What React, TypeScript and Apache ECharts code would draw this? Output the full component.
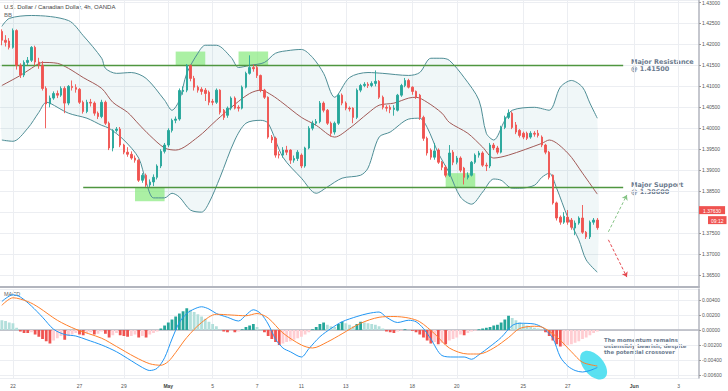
import React, { useEffect, useRef } from 'react';
import * as echarts from 'echarts';

const TITLE = 'U.S. Dollar / Canadian Dollar, 4h, OANDA';
const SLOT_COUNT = 189;
const labelSlots = [3, 21, 33, 45, 57, 69, 81, 93, 111, 123, 141, 153, 171, 183];
const labelTexts = ['22', '27', '29', 'May', '5', '7', '11', '13', '18', '20', '25', '27', 'Jun', '3'];

// [open, high, low, close]
const candles = [
  [1.4231,1.4236,1.4198,1.4210],[1.4210,1.4222,1.4195,1.4205],[1.4208,1.4215,1.4188,1.4193],[1.4193,1.4238,1.4190,1.4233],
  [1.4233,1.4236,1.4140,1.4150],[1.4150,1.4155,1.4120,1.4127],[1.4127,1.4162,1.4122,1.4157],[1.4157,1.4170,1.4150,1.4162],
  [1.4162,1.4196,1.4158,1.4193],[1.4193,1.4197,1.4150,1.4158],[1.4158,1.4168,1.4142,1.4150],[1.4150,1.4160,1.4090,1.4095],
  [1.4095,1.4100,1.4000,1.4058],[1.4058,1.4078,1.4050,1.4072],[1.4072,1.4088,1.4068,1.4083],[1.4083,1.4090,1.4072,1.4079],
  [1.4079,1.4100,1.4075,1.4095],[1.4095,1.4100,1.4036,1.4060],[1.4060,1.4103,1.4055,1.4100],[1.4100,1.4114,1.4090,1.4097],
  [1.4097,1.4105,1.4085,1.4093],[1.4093,1.4096,1.4058,1.4062],[1.4062,1.4066,1.4035,1.4040],[1.4040,1.4068,1.4036,1.4062],
  [1.4062,1.4070,1.4052,1.4060],[1.4060,1.4064,1.4030,1.4036],[1.4036,1.4040,1.4022,1.4028],[1.4028,1.4068,1.4024,1.4062],
  [1.4062,1.4066,1.4008,1.4012],[1.4012,1.4016,1.3948,1.3953],[1.3953,1.3998,1.3945,1.3995],[1.3995,1.4003,1.3990,1.3998],
  [1.3998,1.4003,1.3955,1.3960],[1.3960,1.3963,1.3938,1.3943],[1.3943,1.3955,1.3932,1.3938],[1.3938,1.3945,1.3925,1.3929],
  [1.3929,1.3935,1.3918,1.3924],[1.3924,1.3926,1.3872,1.3876],[1.3876,1.3893,1.3870,1.3888],[1.3888,1.3892,1.3860,1.3865],
  [1.3865,1.3878,1.3860,1.3872],[1.3872,1.3890,1.3862,1.3883],[1.3883,1.3914,1.3878,1.3910],[1.3910,1.3950,1.3905,1.3945],
  [1.3945,1.3965,1.3940,1.3960],[1.3960,1.4000,1.3955,1.3995],[1.3995,1.4023,1.3990,1.4019],[1.4019,1.4028,1.4012,1.4022],
  [1.4022,1.4095,1.4018,1.4090],[1.4088,1.4100,1.4080,1.4091],[1.4091,1.4153,1.4086,1.4150],[1.4150,1.4152,1.4112,1.4119],
  [1.4119,1.4125,1.4090,1.4098],[1.4098,1.4102,1.4085,1.4091],[1.4093,1.4098,1.4080,1.4088],[1.4091,1.4096,1.4065,1.4083],
  [1.4086,1.4090,1.4055,1.4062],[1.4064,1.4070,1.4055,1.4062],[1.4062,1.4095,1.4058,1.4091],[1.4091,1.4093,1.4033,1.4038],
  [1.4043,1.4046,1.4020,1.4026],[1.4031,1.4052,1.4025,1.4048],[1.4048,1.4076,1.4043,1.4072],[1.4072,1.4076,1.4045,1.4048],
  [1.4050,1.4055,1.4040,1.4048],[1.4048,1.4102,1.4045,1.4098],[1.4098,1.4135,1.4095,1.4131],[1.4131,1.4174,1.4128,1.4145],
  [1.4145,1.4152,1.4135,1.4142],[1.4145,1.4150,1.4120,1.4126],[1.4126,1.4128,1.4086,1.4091],[1.4091,1.4094,1.4070,1.4074],
  [1.4074,1.4076,1.3975,1.3979],[1.3979,1.3984,1.3965,1.3972],[1.3976,1.3980,1.3930,1.3936],[1.3938,1.3945,1.3928,1.3936],
  [1.3936,1.3955,1.3930,1.3948],[1.3948,1.3958,1.3936,1.3943],[1.3948,1.3950,1.3915,1.3924],[1.3924,1.3935,1.3918,1.3928],
  [1.3928,1.3948,1.3922,1.3943],[1.3936,1.3940,1.3905,1.3910],[1.3910,1.3956,1.3906,1.3953],[1.3953,1.4005,1.3950,1.4000],
  [1.4000,1.4018,1.3995,1.4012],[1.4012,1.4022,1.4007,1.4016],[1.4016,1.4065,1.4012,1.4060],[1.4060,1.4064,1.4038,1.4043],
  [1.4043,1.4046,1.4008,1.4012],[1.4012,1.4016,1.3980,1.3988],[1.3991,1.4016,1.3985,1.4012],[1.4012,1.4082,1.4008,1.4079],
  [1.4079,1.4083,1.4055,1.4060],[1.4060,1.4064,1.4043,1.4048],[1.4048,1.4052,1.4040,1.4046],[1.4048,1.4050,1.4012,1.4026],
  [1.4026,1.4095,1.4022,1.4091],[1.4091,1.4106,1.4086,1.4102],[1.4102,1.4110,1.4098,1.4105],[1.4105,1.4110,1.4096,1.4102],
  [1.4102,1.4112,1.4098,1.4107],[1.4107,1.4138,1.4100,1.4112],[1.4112,1.4115,1.4070,1.4074],[1.4074,1.4078,1.4045,1.4050],
  [1.4050,1.4055,1.4040,1.4048],[1.4050,1.4055,1.4036,1.4045],[1.4045,1.4055,1.4030,1.4048],[1.4043,1.4082,1.4040,1.4079],
  [1.4079,1.4106,1.4075,1.4102],[1.4102,1.4120,1.4098,1.4114],[1.4114,1.4118,1.4095,1.4098],[1.4098,1.4100,1.4080,1.4088],
  [1.4088,1.4090,1.4070,1.4074],[1.4079,1.4082,1.4020,1.4026],[1.4026,1.4030,1.3970,1.3976],[1.3976,1.3980,1.3935,1.3941],
  [1.3948,1.3952,1.3925,1.3931],[1.3931,1.3965,1.3925,1.3946],[1.3948,1.3952,1.3915,1.3919],[1.3919,1.3922,1.3900,1.3907],
  [1.3907,1.3912,1.3883,1.3888],[1.3888,1.3960,1.3884,1.3941],[1.3943,1.3948,1.3912,1.3919],[1.3919,1.3934,1.3914,1.3929],
  [1.3929,1.3933,1.3895,1.3900],[1.3905,1.3908,1.3866,1.3883],[1.3883,1.3895,1.3878,1.3888],[1.3888,1.3922,1.3885,1.3919],
  [1.3919,1.3940,1.3915,1.3936],[1.3936,1.3946,1.3930,1.3941],[1.3941,1.3945,1.3908,1.3912],[1.3912,1.3918,1.3898,1.3910],
  [1.3910,1.3965,1.3905,1.3960],[1.3960,1.3965,1.3948,1.3953],[1.3953,1.3958,1.3938,1.3943],[1.3943,1.4006,1.3940,1.4002],
  [1.4002,1.4030,1.3998,1.4026],[1.4026,1.4045,1.4022,1.4036],[1.4036,1.4040,1.3998,1.4002],[1.4008,1.4015,1.3986,1.3991],
  [1.3995,1.3998,1.3978,1.3983],[1.3988,1.3992,1.3974,1.3979],[1.3988,1.3992,1.3972,1.3976],[1.3979,1.3993,1.3975,1.3988],
  [1.3988,1.3993,1.3980,1.3986],[1.3988,1.3996,1.3978,1.3983],[1.3979,1.3983,1.3955,1.3960],[1.3960,1.3963,1.3938,1.3943],
  [1.3943,1.3946,1.3878,1.3883],[1.3888,1.3890,1.3818,1.3822],[1.3822,1.3825,1.3780,1.3786],[1.3788,1.3792,1.3770,1.3776],
  [1.3776,1.3800,1.3772,1.3790],[1.3788,1.3805,1.3770,1.3776],[1.3781,1.3786,1.3758,1.3764],[1.3762,1.3780,1.3745,1.3774],
  [1.3774,1.3790,1.3770,1.3786],[1.3786,1.3817,1.3748,1.3752],[1.3752,1.3755,1.3736,1.3741],[1.3741,1.3780,1.3736,1.3776],
  [1.3776,1.3786,1.3770,1.3781],[1.3781,1.3786,1.3758,1.3763]
];

// Bollinger bands, read as [candle slot, price]
const bbUpper = [
  [0,1.4243],[2,1.4262],[8,1.4269],[18,1.4257],[22,1.4221],[27,1.4167],[28,1.4143],[31,1.4131],[35,1.4133],[39,1.4119],
  [44,1.4067],[46,1.4043],[48,1.4067],[50,1.4131],[53,1.4179],[55,1.4198],[58,1.4198],[62,1.4169],[64,1.4145],[67,1.4150],
  [71,1.4157],[74,1.4179],[78,1.4186],[81,1.4188],[84,1.4169],[87,1.4131],[90,1.4074],[94,1.4121],[99,1.4133],[103,1.4131],
  [110,1.4126],[113,1.4133],[116,1.4167],[119,1.4167],[121,1.4162],[125,1.4121],[129,1.4067],[131,1.3988],[133,1.3972],
  [136,1.4019],[138,1.4043],[144,1.4050],[148,1.4043],[151,1.4098],[154,1.4114],[157,1.4098],[159,1.4060],[161,1.4024]
];
const bbBasis = [
  [0,1.4102],[5,1.4126],[8,1.4143],[11,1.4157],[15,1.4155],[18,1.4143],[22,1.4121],[27,1.4095],[30,1.4062],[34,1.4038],
  [37,1.4010],[40,1.3983],[44,1.3953],[47,1.3948],[53,1.3979],[58,1.4019],[63,1.4057],[67,1.4083],[70,1.4091],[73,1.4079],
  [76,1.4060],[81,1.4026],[85,1.4007],[90,1.3979],[94,1.4000],[99,1.4036],[102,1.4055],[106,1.4060],[110,1.4072],[112,1.4074],
  [115,1.4062],[119,1.4036],[121,1.4014],[126,1.3988],[130,1.3955],[133,1.3929],[137,1.3936],[146,1.3964],[148,1.3972],
  [153,1.3941],[157,1.3893],[161,1.3843]
];
const bbLower = [
  [0,1.3972],[3,1.3969],[7,1.4000],[10,1.4038],[12,1.4062],[13,1.4060],[18,1.4036],[23,1.4024],[27,1.4007],[29,1.4000],
  [33,1.3972],[37,1.3929],[39,1.3872],[41,1.3834],[44,1.3834],[46,1.3845],[48,1.3836],[51,1.3805],[54,1.3800],[56,1.3822],
  [59,1.3883],[63,1.3972],[66,1.4012],[70,1.4019],[72,1.4012],[76,1.3931],[81,1.3881],[85,1.3845],[88,1.3860],[92,1.3881],
  [97,1.3888],[99,1.3905],[102,1.3979],[105,1.3991],[110,1.4022],[113,1.4024],[115,1.4002],[118,1.3941],[121,1.3893],
  [124,1.3836],[127,1.3819],[130,1.3848],[133,1.3879],[135,1.3876],[138,1.3857],[140,1.3857],[144,1.3864],[146,1.3883],
  [148,1.3893],[150,1.3857],[153,1.3788],[156,1.3734],[158,1.3686],[161,1.3657]
];

const macdHist = [
  0.0013,0.0012,0.0010,0.0009,0.0003,-0.0002,-0.0004,-0.0004,-0.0003,-0.0006,
  -0.0009,-0.0012,-0.0015,-0.0018,-0.0014,-0.0011,-0.0008,-0.0013,-0.0008,-0.0006,
  -0.0004,-0.0006,-0.0007,-0.0004,-0.0003,-0.0006,-0.0005,-0.0002,-0.0005,-0.0010,
  -0.0007,-0.0004,-0.0007,-0.0008,-0.0009,-0.0008,-0.0006,-0.0010,-0.0008,-0.0010,
  -0.0006,-0.0004,-0.0002,0.0002,0.0006,0.0010,0.0014,0.0018,0.0022,0.0025,
  0.0029,0.0027,0.0024,0.0021,0.0018,0.0015,0.0011,0.0008,0.0005,0.0001,
  -0.0002,-0.0003,-0.0001,-0.0003,-0.0002,0.0001,0.0004,0.0006,0.0008,0.0004,
  0.0001,-0.0003,-0.0008,-0.0012,-0.0016,-0.0020,-0.0018,-0.0016,-0.0015,-0.0013,
  -0.0011,-0.0009,-0.0006,-0.0003,0.0001,0.0004,0.0008,0.0010,0.0007,0.0005,
  0.0004,0.0008,0.0011,0.0009,0.0007,0.0005,0.0008,0.0011,0.0010,0.0009,
  0.0008,0.0007,0.0005,0.0002,-0.0002,-0.0003,-0.0004,-0.0002,-0.0001,0.0001,
  0.0000,-0.0001,-0.0003,-0.0006,-0.0010,-0.0014,-0.0018,-0.0016,-0.0019,-0.0017,
  -0.0019,-0.0014,-0.0012,-0.0010,-0.0006,-0.0007,-0.0004,-0.0002,-0.0001,0.0001,
  0.0002,0.0003,0.0004,0.0006,0.0007,0.0010,0.0014,0.0019,0.0016,0.0013,
  0.0010,0.0008,0.0006,0.0004,0.0003,0.0002,0.0000,-0.0003,-0.0008,-0.0014,
  -0.0019,-0.0022,-0.0021,-0.0020,-0.0019,-0.0017,-0.0015,-0.0012,-0.0010,-0.0007,
  -0.0004,-0.0002
];
const macdLine = [
  [0,0.0038],[3,0.0047],[5,0.0044],[8,0.0032],[11,0.0017],[14,0.0001],[17,-0.0006],[20,-0.0008],[23,-0.0013],[27,-0.0020],
  [31,-0.0029],[35,-0.0041],[38,-0.0050],[40,-0.0054],[42,-0.0051],[44,-0.0037],[46,-0.0012],[48,0.0010],[50,0.0022],
  [52,0.0028],[54,0.0031],[56,0.0028],[58,0.0022],[61,0.0017],[64,0.0012],[66,0.0020],[68,0.0027],[70,0.0022],[72,0.0008],
  [74,-0.0012],[76,-0.0024],[78,-0.0029],[81,-0.0036],[83,-0.0025],[86,-0.0009],[89,0.0002],[92,0.0011],[96,0.0018],
  [99,0.0022],[102,0.0024],[104,0.0017],[107,0.0010],[110,0.0013],[112,0.0011],[114,0.0002],[116,-0.0012],[119,-0.0034],
  [122,-0.0036],[125,-0.0036],[127,-0.0039],[129,-0.0033],[132,-0.0022],[135,-0.0010],[138,0.0006],[140,0.0009],
  [144,0.0008],[146,0.0004],[147,0.0000],[149,-0.0011],[151,-0.0036],[153,-0.0048],[155,-0.0054],[157,-0.0056],
  [159,-0.0054],[161,-0.0050]
];
const signalLine = [
  [0,0.0033],[3,0.0043],[7,0.0038],[10,0.0030],[15,0.0013],[20,0.0001],[27,-0.0011],[31,-0.0022],[36,-0.0036],[40,-0.0045],
  [43,-0.0047],[45,-0.0042],[47,-0.0030],[50,-0.0010],[54,0.0010],[58,0.0021],[62,0.0020],[66,0.0019],[69,0.0022],
  [72,0.0016],[76,-0.0004],[81,-0.0020],[84,-0.0024],[88,-0.0016],[92,-0.0005],[97,0.0009],[102,0.0017],[106,0.0018],
  [110,0.0016],[113,0.0011],[117,-0.0005],[121,-0.0024],[126,-0.0032],[129,-0.0032],[133,-0.0024],[137,-0.0010],
  [140,0.0002],[144,0.0005],[146,0.0004],[150,-0.0009],[154,-0.0029],[157,-0.0043],[161,-0.0048]
];

const resistance = 1.415;
const support = 1.386;
const lastPrice = 1.3763;
const countdown = '09:12';
// [fromSlot, toSlot, lowPrice, highPrice]
const zones = [[36, 44, 1.3826, 1.386], [47, 55, 1.415, 1.4183], [64, 72, 1.415, 1.4183], [120, 128, 1.386, 1.3893]];
const bullPath = [[164, 1.3753], [169, 1.3841]];
const bearPath = [[164, 1.3734], [169, 1.3645]];
const ellipseCenter = [160, -0.00467];

const FONT = '"Liberation Sans", Arial, sans-serif';
const NOTE_FONT = '"DejaVu Sans", sans-serif';
const LEVEL_STYLE = { color: '#4f9640', width: 1.3, type: 'solid' };

export default function App() {
  const ref = useRef<HTMLDivElement>(null);
  useEffect(() => {
    const chart = echarts.init(ref.current!, null, { renderer: 'svg' });
    const cats = Array.from({ length: SLOT_COUNT }, (_, i) => String(i));
    const isLabel = (i: number) => labelSlots.indexOf(i) >= 0;
    const histColors = macdHist.map((v, i) => {
      const prev = i === 0 ? v + 0.0001 : macdHist[i - 1];
      if (v >= 0) return v > prev ? '#26a69a' : '#b2dfdb';
      return v <= prev ? '#ef5350' : '#ffcdd2';
    });
    const gridLine = { color: '#eceef2', width: 1 };
    const fmt = (v: number) => (Math.abs(v) < 1e-9 ? '0.00000' : v.toFixed(5));
    const noteText = { fontFamily: NOTE_FONT, fontWeight: 'bold', fill: '#6b7a8e' };

    const option: any = {
      animation: false,
      backgroundColor: '#ffffff',
      textStyle: { fontFamily: FONT },
      grid: [
        { left: 0, right: 29, top: 0, bottom: 104 },
        { left: 0, right: 29, top: 289, bottom: 13 }
      ],
      xAxis: [
        {
          type: 'category', gridIndex: 0, data: cats, boundaryGap: true,
          axisLabel: { show: false }, axisTick: { show: false },
          axisLine: { show: true, lineStyle: { color: '#b2b5be', width: 2 } },
          splitLine: { show: true, interval: (i: number) => isLabel(i), alignWithLabel: true, lineStyle: gridLine }
        },
        {
          type: 'category', gridIndex: 1, data: cats, boundaryGap: true,
          axisTick: { show: false },
          axisLine: { show: true, lineStyle: { color: '#b2b5be', width: 1.5 } },
          axisLabel: {
            interval: (i: number) => isLabel(i), fontSize: 5, color: '#555', margin: 5,
            formatter: (_v: string, i: number) => {
              const t = labelTexts[labelSlots.indexOf(i)] || '';
              return t === 'May' || t === 'Jun' ? '{m|' + t + '}' : t;
            },
            rich: { m: { fontSize: 5, fontWeight: 'bold', color: '#444' } }
          },
          splitLine: { show: true, interval: (i: number) => isLabel(i), alignWithLabel: true, lineStyle: gridLine }
        }
      ],
      yAxis: [
        {
          type: 'value', gridIndex: 0, position: 'right', min: 1.362143, max: 1.430476, splitNumber: 14,
          axisLine: { show: true, lineStyle: { color: '#b2b5be', width: 1.5 } },
          axisTick: { show: true, length: 2, lineStyle: { color: '#999' } },
          axisLabel: { fontSize: 5, color: '#555', margin: 3, formatter: fmt, showMinLabel: false, showMaxLabel: false },
          splitLine: { show: true, lineStyle: gridLine }
        },
        {
          type: 'value', gridIndex: 1, position: 'right', min: -0.0064, max: 0.00547, splitNumber: 6,
          axisLine: { show: true, lineStyle: { color: '#b2b5be', width: 1.5 } },
          axisTick: { show: true, length: 2, lineStyle: { color: '#999' } },
          axisLabel: { fontSize: 5, color: '#555', margin: 3, formatter: fmt, showMinLabel: false, showMaxLabel: false },
          splitLine: { show: true, lineStyle: gridLine }
        }
      ],
      series: [
        {
          type: 'custom', xAxisIndex: 0, yAxisIndex: 0, z: 1, silent: true, data: [[0, bbUpper[0][1]]],
          renderItem: (_p: any, api: any) => {
            const pts = bbUpper.map((p) => api.coord(p)).concat(bbLower.slice().reverse().map((p) => api.coord(p)));
            return { type: 'polygon', shape: { points: pts, smooth: 0.25 }, style: { fill: 'rgba(40,140,150,0.07)' } };
          }
        },
        {
          type: 'custom', xAxisIndex: 0, yAxisIndex: 0, z: 2, silent: true,
          data: zones.map((z) => [z[0], z[2]]),
          renderItem: (p: any, api: any) => {
            const z = zones[p.dataIndex];
            const a = api.coord([z[0], z[3]]);
            const b = api.coord([z[1], z[2]]);
            return { type: 'rect', shape: { x: a[0], y: a[1], width: b[0] - a[0], height: b[1] - a[1] }, style: { fill: 'rgba(135,234,125,0.7)' } };
          }
        },
        { type: 'line', xAxisIndex: 0, yAxisIndex: 0, z: 3, data: bbUpper, showSymbol: false, smooth: 0.3, silent: true, lineStyle: { color: '#4f8e96', width: 1 } },
        { type: 'line', xAxisIndex: 0, yAxisIndex: 0, z: 3, data: bbLower, showSymbol: false, smooth: 0.3, silent: true, lineStyle: { color: '#4f8e96', width: 1 } },
        { type: 'line', xAxisIndex: 0, yAxisIndex: 0, z: 3, data: bbBasis, showSymbol: false, smooth: 0.3, silent: true, lineStyle: { color: '#a25a57', width: 1 } },
        {
          type: 'candlestick', xAxisIndex: 0, yAxisIndex: 0, z: 5, silent: true,
          barWidth: 2,
          data: candles.map((c) => [c[0], c[3], c[2], c[1]]),
          itemStyle: { color: '#26a69a', color0: '#ef5350', borderColor: '#26a69a', borderColor0: '#ef5350', borderWidth: 0.9 },
          markLine: {
            silent: true, symbol: ['none', 'none'], animation: false,
            label: { show: false },
            data: [
              [{ coord: [0, resistance], lineStyle: LEVEL_STYLE }, { coord: [168, resistance] }],
              [{ coord: [22, support], lineStyle: LEVEL_STYLE }, { coord: [168, support] }],
              [
                { coord: bullPath[0], lineStyle: { color: '#86c486', type: [3, 2], width: 1 } },
                { coord: bullPath[1], symbol: 'arrow', symbolSize: 5 }
              ],
              [
                { coord: bearPath[0], lineStyle: { color: '#e5484f', type: [3, 2], width: 1 } },
                { coord: bearPath[1], symbol: 'arrow', symbolSize: 5 }
              ],
              {
                yAxis: lastPrice, lineStyle: { color: 'rgba(0,0,0,0)', width: 0 },
                label: {
                  show: true, position: 'end', distance: 0, padding: [8, 0, 0, 0],
                  formatter: '{a|' + lastPrice.toFixed(5) + '}\n{s|}{b|' + countdown + '}',
                  rich: {
                    a: { backgroundColor: '#ef5350', color: '#fff', fontSize: 5, padding: [2, 4, 1, 4] },
                    s: { width: 9 },
                    b: { backgroundColor: '#ef5350', color: '#fff', fontSize: 5, padding: [2, 3, 1, 3] }
                  }
                }
              }
            ],
            lineStyle: LEVEL_STYLE
          }
        },
        {
          type: 'custom', xAxisIndex: 1, yAxisIndex: 1, z: 2, silent: true, data: [ellipseCenter],
          renderItem: (_p: any, api: any) => {
            const c = api.coord(ellipseCenter);
            return { type: 'ellipse', x: c[0], y: c[1], rotation: -0.85, shape: { cx: 0, cy: 0, rx: 17, ry: 10 }, style: { fill: 'rgba(60,220,238,0.85)' } };
          }
        },
        {
          type: 'bar', xAxisIndex: 1, yAxisIndex: 1, z: 3, silent: true, barWidth: 2.8,
          data: macdHist.map((v, i) => ({ value: v, itemStyle: { color: histColors[i] } }))
        },
        { type: 'line', xAxisIndex: 1, yAxisIndex: 1, z: 4, data: macdLine, showSymbol: false, smooth: 0.3, silent: true, lineStyle: { color: '#2196f3', width: 1 } },
        { type: 'line', xAxisIndex: 1, yAxisIndex: 1, z: 4, data: signalLine, showSymbol: false, smooth: 0.3, silent: true, lineStyle: { color: '#ff7f2a', width: 1 } }
      ],
      graphic: [
        { type: 'text', x: 4, y: 4, style: { text: TITLE, fontSize: 6, fontFamily: FONT, fill: '#444' } },
        { type: 'text', x: 4, y: 12, style: { text: 'BB', fontSize: 6, fontFamily: FONT, fill: '#666' } },
        { type: 'text', x: 4, y: 291, style: { text: 'MACD', fontSize: 5.5, fontFamily: FONT, fill: '#666' } },
        { type: 'text', x: 631, y: 58.5, style: { text: 'Major Resistance\n@ 1.41500', fontSize: 6.5, lineHeight: 7, ...noteText } },
        { type: 'text', x: 631, y: 181.5, style: { text: 'Major Support\n@ 1.38600', fontSize: 6.5, lineHeight: 7, ...noteText } },
        { type: 'text', x: 604, y: 336.5, style: { text: 'The momentum remains\nostensibly bearish, despite\nthe potential crossover', fontSize: 5.4, lineHeight: 6, ...noteText } }
      ]
    };
    chart.setOption(option);
    return () => chart.dispose();
  }, []);
  return <div ref={ref} style={{ position: 'fixed', left: 0, top: 0, width: 728, height: 391, background: '#fff' }} />;
}
